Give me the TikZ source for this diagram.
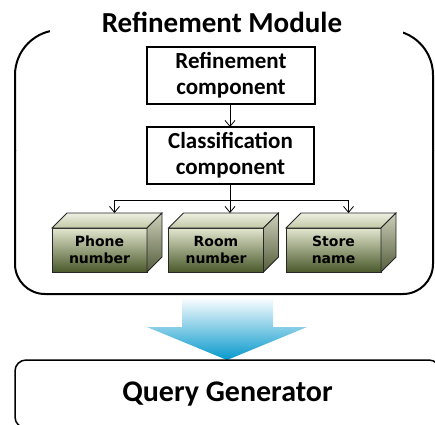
\documentclass[tikz,border=0pt]{standalone}
\usepackage{fontspec}
\setmainfont{Carlito}
\newfontfamily\cubefont{DejaVu Sans}
\usetikzlibrary{arrows.meta,calc}
\definecolor{frontA}{HTML}{E2E6CE}
\definecolor{frontB}{HTML}{4A592B}
\definecolor{topA}{HTML}{EEF0E2}
\definecolor{topB}{HTML}{C2C8A6}
\definecolor{sideA}{HTML}{CDD0BA}
\definecolor{sideB}{HTML}{545D3C}
\definecolor{arrowblue}{HTML}{0598CC}
\newcommand\drawcube[1]{%
  \path[draw=black!85, line width=0.8pt, top color=topA, bottom color=topB]
    (#1.north west) -- ++(15,-15) -- ($(#1.north east)+(15,-15)$) -- (#1.north east) -- cycle;
  \path[draw=black!85, line width=0.8pt, top color=sideA, bottom color=sideB]
    (#1.north east) -- ++(15,-15) -- ($(#1.south east)+(15,-15)$) -- (#1.south east) -- cycle;
}
\begin{document}
\begin{tikzpicture}[x=1pt, y=-1pt,
  comp/.style={draw, line width=1.2pt, align=center, inner sep=0pt, outer sep=0pt,
    font=\fontsize{23}{26}\selectfont\bfseries},
  cube/.style={draw=black!85, line width=0.8pt, top color=frontA, bottom color=frontB,
    minimum width=95pt, minimum height=44pt, inner sep=0pt, outer sep=0pt, align=center,
    font=\cubefont\fontsize{14}{16.5}\selectfont\bfseries},
  conn/.style={line width=0.8pt, -{Straight Barb[length=6pt, width=10pt]}},
  line/.style={line width=0.8pt}]
\useasboundingbox (0,0) rectangle (435,424);
\clip (0,0) rectangle (435,424);
% module border
\draw[line width=2pt, rounded corners=30pt] (15,150) -- (15,294) -- (433,294) -- (433,150);
\draw[line width=2pt, rounded corners=45pt] (15,151) -- (15,30) -- (433,30) -- (433,151);
\fill[white] (50,24) rectangle (403,36);
\node[font=\fontsize{29}{32}\selectfont\bfseries, anchor=base, inner sep=0pt] (title) at (222,32) {Refinement Module};
% components
\node[comp, minimum width=168pt, minimum height=57pt] (ref) at (231,75.5) {Refinement\\component};
\node[comp, minimum width=167pt, minimum height=57pt] (cls) at (230.5,155.5) {Classification\\component};
\draw[conn] (ref.south -| 230,0) -- (cls.north -| 230,0);
% cubes
\node[cube] (ph) at (99.5,250) {Phone\\number};
\node[cube] (rm) at (216,250) {Room\\number};
\node[cube] (st) at (333.5,250) {Store\\name};
\drawcube{ph}
\drawcube{rm}
\drawcube{st}
\coordinate (phtop) at ($(ph.north)+(15,-15)$);
\coordinate (rmtop) at ($(rm.north)+(14,-15)$);
\coordinate (sttop) at ($(st.north)+(15,-15)$);
\coordinate (split) at (230,200);
\draw[line] (cls.south -| split) -- (split);
\draw[conn] (split) -| (phtop);
\draw[conn] (split) -- (rmtop);
\draw[conn] (split) -| (sttop);
% big arrow
\path[top color=white, bottom color=arrowblue]
  (182,297) -- (273,297) -- (273,327) -- (307,327) -- (227,360) -- (147,327) -- (182,327) -- cycle;
% query generator
\node[draw, line width=1.5pt, rounded corners=11pt, minimum width=425pt, minimum height=68pt,
  font=\fontsize{30}{34}\selectfont\bfseries, inner sep=0pt] (qg) at (227.5,394) {Query Generator};
\end{tikzpicture}
\end{document}
